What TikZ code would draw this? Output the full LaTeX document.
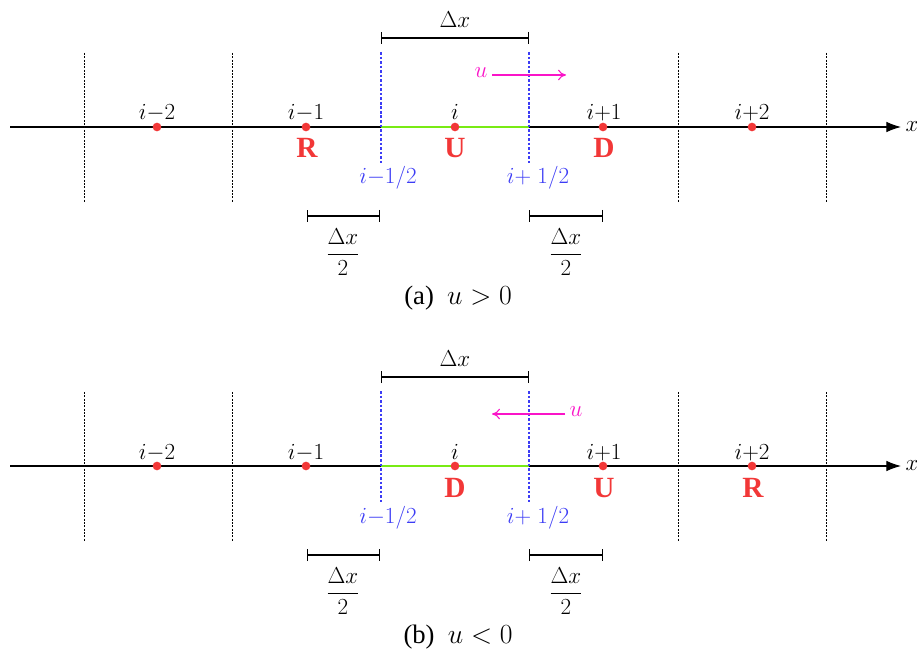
\documentclass[tikz,border=0pt]{standalone}
\usepackage{fontspec}
\setmainfont{Liberation Serif}
\usetikzlibrary{arrows.meta}
\definecolor{ptred}{RGB}{242,55,55}
\definecolor{faceblue}{RGB}{60,60,245}
\definecolor{velmag}{RGB}{250,20,200}
\definecolor{cellgreen}{RGB}{120,235,20}
\begin{document}
\begin{tikzpicture}[x=0.75pt,y=-0.75pt,
  axisline/.style={line width=0.9pt,-{Latex[length=11pt,width=8pt]}},
  celledge/.style={line width=0.75pt,dash pattern=on 1.4pt off 1.1pt},
  faceline/.style={faceblue,line width=0.8pt,dash pattern=on 2pt off 1.4pt},
  cellseg/.style={cellgreen,line width=1.4pt},
  ptdot/.style={circle,fill=ptred,inner sep=0pt,minimum size=6.5pt},
  ptlab/.style={anchor=base,font=\fontsize{16}{18}\selectfont,inner sep=0pt},
  letterlab/.style={anchor=base,text=ptred,font=\fontsize{22}{24}\selectfont\bfseries,inner sep=0pt},
  facelab/.style={anchor=base,text=faceblue,font=\fontsize{16}{18}\selectfont,inner sep=0pt},
  bracketline/.style={line width=0.9pt,{Bar[width=9pt]}-{Bar[width=9pt]}},
  velarrow/.style={velmag,line width=0.8pt,-{To[length=6pt,width=8pt]}},
  vellab/.style={text=velmag,font=\fontsize{17}{19}\selectfont,inner sep=0pt},
  biglab/.style={font=\fontsize{17}{19}\selectfont,inner sep=0pt},
  captext/.style={font=\fontsize{20}{22}\selectfont,inner sep=0pt}]
\useasboundingbox (0,0) rectangle (917,659);

% ---------------- panel (a) ----------------
\begin{scope}
\coordinate (aL) at (10,127);
\coordinate (aR) at (901,127);
\draw[axisline] (aL) -- (aR) node[right=3pt,biglab] (ax) {$x$};
\foreach \xx/\nm in {84/e1,232/e2,678/e3,826/e4}{
  \coordinate (a\nm t) at (\xx,53);
  \coordinate (a\nm b) at (\xx,202);
  \draw[celledge] (a\nm t) -- (a\nm b);
}
\coordinate (af1t) at (381,52); \coordinate (af1b) at (381,164);
\coordinate (af2t) at (529,52); \coordinate (af2b) at (529,164);
\coordinate (af1m) at (381,127); \coordinate (af2m) at (529,127);
\draw[cellseg] (af1m) -- (af2m);
\draw[faceline] (af1t) -- (af1b);
\draw[faceline] (af2t) -- (af2b);
\node[ptdot] (ap1) at (157,127) {};
\node[ptdot] (ap2) at (306,127) {};
\node[ptdot] (ap3) at (455,127) {};
\node[ptdot] (ap4) at (603,127) {};
\node[ptdot] (ap5) at (752,127) {};
\node[ptlab] (al1) at (157,120) {$i{-}2$};
\node[ptlab] (al2) at (306,120) {$i{-}1$};
\node[ptlab] (al3) at (455,120) {$i$};
\node[ptlab] (al4) at (604,120) {$i{+}1$};
\node[ptlab] (al5) at (752,120) {$i{+}2$};
\node[letterlab] (aR1) at (307,158) {R};
\node[letterlab] (aU) at (455,158) {U};
\node[letterlab] (aD) at (604,158) {D};
\node[facelab] (afl1) at (388,184) {$i{-}1/2$};
\node[facelab] (afl2) at (538,184) {$i{+}\;1/2$};
\coordinate (adx1) at (381,38); \coordinate (adx2) at (529,38);
\draw[bracketline] (adx1) -- (adx2);
\node[biglab] (adxl) at (455,20) {$\Delta x$};
\node[vellab] (au) at (481,73) {$u$};
\coordinate (auend) at (566,75);
\coordinate (austart) at (492,75);
\draw[velarrow] (austart) -- (auend);
\coordinate (ah1) at (307,216); \coordinate (ah2) at (380,216);
\coordinate (ah3) at (529,216); \coordinate (ah4) at (603,216);
\draw[bracketline] (ah1) -- (ah2);
\draw[bracketline] (ah3) -- (ah4);
\node[biglab] (afr1) at (343,252) {$\displaystyle\frac{\Delta x}{2}$};
\node[biglab] (afr2) at (566,252) {$\displaystyle\frac{\Delta x}{2}$};
\node[captext] (acap) at (458,298) {(a)\ \ $u>0$};
\end{scope}

% ---------------- panel (b) ----------------
\begin{scope}[shift={(0,339)}]
\coordinate (bL) at (10,127);
\coordinate (bR) at (901,127);
\draw[axisline] (bL) -- (bR) node[right=3pt,biglab] (bx) {$x$};
\foreach \xx/\nm in {84/e1,232/e2,678/e3,826/e4}{
  \coordinate (b\nm t) at (\xx,53);
  \coordinate (b\nm b) at (\xx,202);
  \draw[celledge] (b\nm t) -- (b\nm b);
}
\coordinate (bf1t) at (381,52); \coordinate (bf1b) at (381,164);
\coordinate (bf2t) at (529,52); \coordinate (bf2b) at (529,164);
\coordinate (bf1m) at (381,127); \coordinate (bf2m) at (529,127);
\draw[cellseg] (bf1m) -- (bf2m);
\draw[faceline] (bf1t) -- (bf1b);
\draw[faceline] (bf2t) -- (bf2b);
\node[ptdot] (bp1) at (157,127) {};
\node[ptdot] (bp2) at (306,127) {};
\node[ptdot] (bp3) at (455,127) {};
\node[ptdot] (bp4) at (603,127) {};
\node[ptdot] (bp5) at (752,127) {};
\node[ptlab] (bl1) at (157,120) {$i{-}2$};
\node[ptlab] (bl2) at (306,120) {$i{-}1$};
\node[ptlab] (bl3) at (455,120) {$i$};
\node[ptlab] (bl4) at (604,120) {$i{+}1$};
\node[ptlab] (bl5) at (752,120) {$i{+}2$};
\node[letterlab] (bD) at (455,158) {D};
\node[letterlab] (bU) at (604,158) {U};
\node[letterlab] (bR1) at (753,158) {R};
\node[facelab] (bfl1) at (388,184) {$i{-}1/2$};
\node[facelab] (bfl2) at (538,184) {$i{+}\;1/2$};
\coordinate (bdx1) at (381,38); \coordinate (bdx2) at (529,38);
\draw[bracketline] (bdx1) -- (bdx2);
\node[biglab] (bdxl) at (455,20) {$\Delta x$};
\node[vellab] (bu) at (576,73) {$u$};
\coordinate (buend) at (492,75);
\coordinate (bustart) at (565,75);
\draw[velarrow] (bustart) -- (buend);
\coordinate (bh1) at (307,216); \coordinate (bh2) at (380,216);
\coordinate (bh3) at (529,216); \coordinate (bh4) at (603,216);
\draw[bracketline] (bh1) -- (bh2);
\draw[bracketline] (bh3) -- (bh4);
\node[biglab] (bfr1) at (343,252) {$\displaystyle\frac{\Delta x}{2}$};
\node[biglab] (bfr2) at (566,252) {$\displaystyle\frac{\Delta x}{2}$};
\node[captext] (bcap) at (458,298) {(b)\ \ $u<0$};
\end{scope}
\end{tikzpicture}
\end{document}
